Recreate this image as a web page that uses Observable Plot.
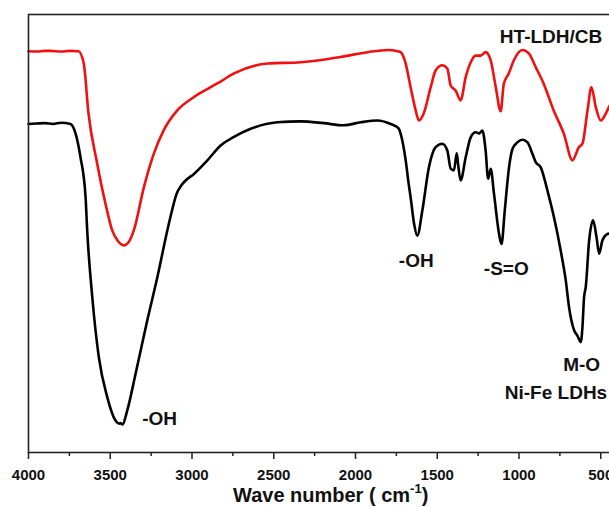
<!DOCTYPE html>
<html>
<head>
<meta charset="utf-8">
<script src="https://cdn.jsdelivr.net/npm/d3@7"></script>
<script src="https://cdn.jsdelivr.net/npm/@observablehq/plot@0.6"></script>
<style>
  html, body { margin: 0; padding: 0; background: #fff; overflow: hidden; width: 609px; height: 507px; }
  #wrap { position: relative; width: 609px; height: 507px; overflow: hidden; }
  #chart svg { max-width: none !important; display: block; }
  #xtitle { position: absolute; left: 233px; top: 484px; font-family: "Liberation Sans", Arial, sans-serif; font-weight: bold; font-size: 20px; line-height: 22px; white-space: nowrap; color: #111; }
  #xtitle sup { font-size: 13px; line-height: 0; position: relative; top: -1px; }
</style>
</head>
<body>
<div id="wrap"><div id="chart"></div><div id="xtitle">Wave number ( cm<sup>-1</sup>)</div></div>
<script>
// HT-LDH/CB (red) spectrum: wavenumber (cm-1) and transmittance (a.u.)
const redWn = [4000,3950,3900,3865,3800,3750,3694,3662,3633,3580,3529,3488,3455,3417,3388,3356,3294,3233,3174,3090,2990,2886,2825,2746,2537,2336,2232,2091,1926,1803,1742,1724,1693,1663,1632,1612,1583,1540,1510,1469,1438,1418,1387,1357,1326,1295,1265,1234,1204,1173,1142,1112,1093,1063,1032,979,940,898,849,788,726,673,634,612,581,557,530,500,469,445,400];
const redT  = [91.6,91.55,91.7,91.7,91.55,91.7,91.6,88.8,77.4,66.0,56.8,50.7,48.4,47.3,48.0,50.7,60.6,68.3,73.5,78.1,81.1,83.4,84.7,86.5,88.8,89.1,89.5,90.3,91.4,91.9,91.6,91.4,88.8,83.4,78.1,75.8,77.4,83.4,87.2,88.4,87.6,83.8,82.6,80.4,85.7,89.1,90.6,90.6,91.4,89.5,83.4,77.9,84.2,86.5,89.5,91.9,91.1,88.0,84.2,78.1,72.8,66.7,69.7,70.5,78.1,83.4,78.8,75.8,77.4,79.2,80.4];

// Ni-Fe LDHs (black) spectrum
const blackWn = [4000,3950,3900,3850,3800,3743,3712,3682,3651,3641,3610,3570,3518,3468,3445,3437,3425,3396,3345,3274,3212,3151,3120,3095,3065,3039,2988,2906,2825,2746,2641,2478,2336,2195,2073,1968,1866,1785,1736,1724,1693,1675,1663,1642,1622,1591,1551,1510,1469,1438,1418,1398,1381,1373,1357,1326,1295,1265,1244,1224,1204,1189,1173,1153,1122,1107,1087,1061,1040,1010,979,948,918,898,867,826,786,745,714,694,663,643,622,612,602,592,571,547,526,510,490,459,445,400];
const blackT  = [75.0,75.1,75.2,75.0,75.3,75.0,72.8,67.4,58.3,50.7,35.5,21.8,12.6,7.3,6.6,6.7,6.4,9.6,18.0,30.1,40.0,50.7,55.6,59.0,61.0,62.1,63.6,66.7,70.1,72.0,73.9,75.4,75.6,75.2,74.7,75.4,75.8,75.0,74.0,72.8,66.7,61.4,58.3,52.3,49.5,55.3,65.1,69.7,70.5,68.9,64.8,64.4,68.3,66.0,62.1,67.4,72.0,73.1,72.8,73.5,68.9,62.5,64.8,59.1,49.9,47.6,55.3,65.1,69.3,70.8,71.4,70.8,68.2,66.3,65.1,59.8,53.7,46.1,39.3,33.2,27.9,26.7,25.2,28.6,35.5,37.7,48.4,53.0,49.2,45.4,48.4,49.9,50.0,50.7];

// Annotations
const labelText = ["-OH", "-OH", "-S=O", "M-O", "Ni-Fe LDHs", "HT-LDH/CB"];
const labelWn   = [3305, 1735, 1215, 730, 1087, 1117];
const labelT    = [6.2, 42.3, 40.6, 18.6, 12.3, 93.4];

// Axis ticks
const majorTicks = [4000, 3500, 3000, 2500, 2000, 1500, 1000, 500];
const minorTicks = [3750, 3250, 2750, 2250, 1750, 1250, 750];

const red = redWn.map((w, i) => ({wn: w, t: redT[i]}));
const black = blackWn.map((w, i) => ({wn: w, t: blackT[i]}));
const labels = labelText.map((s, i) => ({s, wn: labelWn[i], t: labelT[i]}));

const font = "'Liberation Sans', Arial, sans-serif";

const chart = Plot.plot({
  width: 620,
  height: 507,
  marginLeft: 28,
  marginRight: 3.4,
  marginTop: 14,
  marginBottom: 55,
  style: {fontFamily: font, background: "#fff", overflow: "visible", maxWidth: "none"},
  x: {domain: [4000, 400], label: null},
  y: {domain: [0, 100], axis: null},
  marks: [
    Plot.axisX({ticks: minorTicks, tickSize: 4, tickFormat: () => "", strokeWidth: 1.5, stroke: "#222", label: null}),
    Plot.axisX({ticks: majorTicks, tickSize: 7, tickPadding: 10, tickFormat: d => String(d), fontSize: 15, fontWeight: "bold", fill: "#111", strokeWidth: 1.5, stroke: "#222", label: null}),
    Plot.line(red, {x: "wn", y: "t", stroke: "#f01010", strokeWidth: 2.6, curve: "monotone-x"}),
    Plot.line(black, {x: "wn", y: "t", stroke: "#000", strokeWidth: 2.6, curve: "monotone-x"}),
    Plot.text(labels, {x: "wn", y: "t", text: "s", textAnchor: "start", lineAnchor: "bottom", fontSize: 19, fontWeight: "bold", fill: "#111"}),
    Plot.frame({stroke: "#222", strokeWidth: 1.6})
  ]
});
document.getElementById("chart").appendChild(chart);
</script>
</body>
</html>
